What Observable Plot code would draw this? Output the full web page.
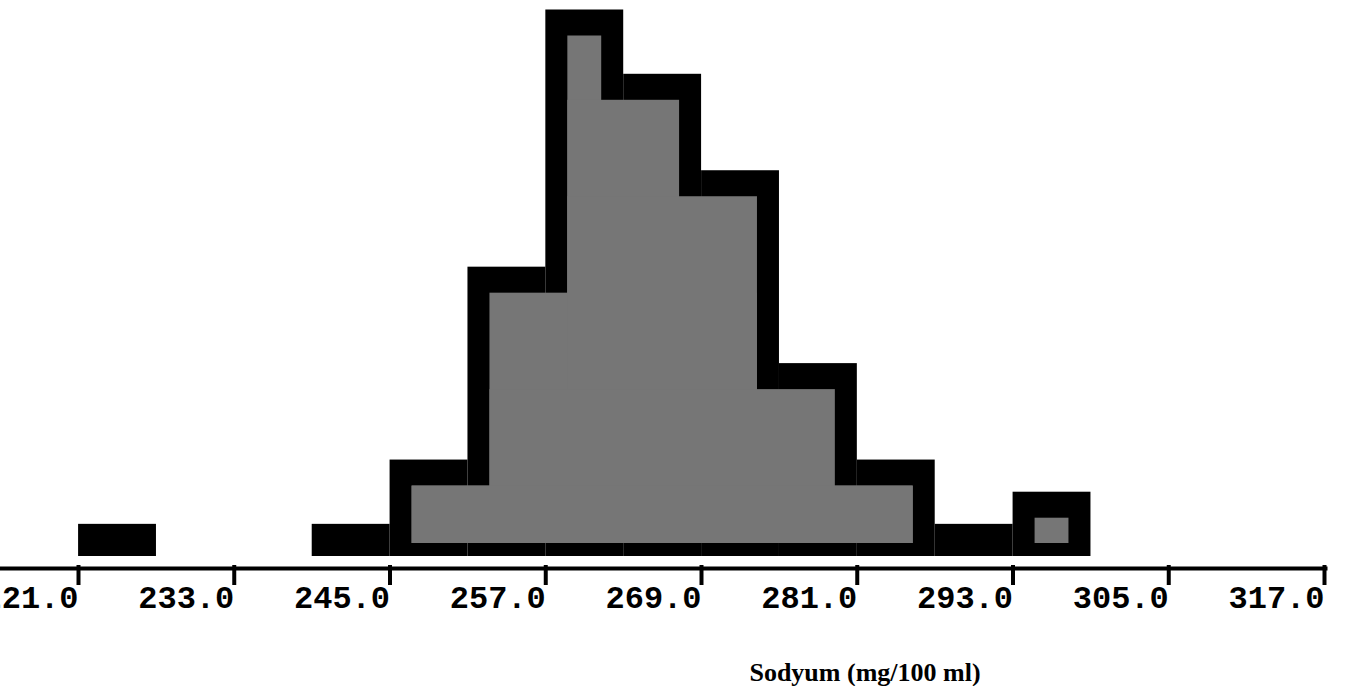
<!DOCTYPE html>
<html><head><meta charset="utf-8">
<script src="https://cdn.jsdelivr.net/npm/d3@7"></script>
<script src="https://cdn.jsdelivr.net/npm/@observablehq/plot@0.6"></script>
<style>
html,body{margin:0;padding:0;background:#fff;}
#caption{font-family:"Liberation Serif",serif;font-weight:bold;font-size:26px;line-height:26px;padding-top:20px;padding-left:384px;text-align:center;width:962px;color:#000;}
</style></head><body>
<div id="chart"></div>
<div id="caption"></div>
<script>
// Histogram of sodium (mg/100 ml): bin lower edges, counts, width
const binStart = [221.7, 239.7, 245.7, 251.7, 257.7, 263.7, 269.7, 275.7, 281.7, 287.7, 293.7];
const counts   = [1, 1, 3, 9, 17, 15, 12, 6, 3, 1, 2];
const binWidth = 6;
const tickValues = [221, 233, 245, 257, 269, 281, 293, 305, 317];
const xLabel = "Sodyum (mg/100 ml)";

const bars = binStart.map((x0, i) => ({x1: x0, x2: x0 + binWidth, count: counts[i]}));
const touches = (a, b) => Math.abs(a.x2 - b.x1) < 1e-6;
// inner (shaded) region: for each bar, the run of adjacent bars at least as tall
const interior = bars.map((b, i) => {
  let a = i; while (a > 0 && touches(bars[a-1], bars[a]) && bars[a-1].count >= b.count) a--;
  let c = i; while (c < bars.length - 1 && touches(bars[c], bars[c+1]) && bars[c+1].count >= b.count) c++;
  return {x1: bars[a].x1, x2: bars[c].x2, count: b.count};
}).filter(d => d.count > 1);

const chart = Plot.plot({
  width: 1346, height: 640,
  marginLeft: 0, marginRight: 21, marginTop: 0, marginBottom: 72,
  x: {domain: [221, 317], range: [69, 1315]},
  y: {domain: [0, 17], range: [556, 9.5], axis: null},
  marks: [
    Plot.rect(bars, {x1: "x1", x2: "x2", y1: 0, y2: "count", fill: "#000"}),
    Plot.rect(interior, {x1: "x1", x2: "x2", y1: 0, y2: "count", fill: "#767676",
      insetLeft: 22, insetRight: 22, insetTop: 26, insetBottom: 13}),
    Plot.frame({anchor: "bottom", strokeWidth: 4, stroke: "#000"}),
    Plot.axisX({ticks: tickValues, tickFormat: d => d.toFixed(1), tickSize: 20, tickPadding: 0,
      strokeWidth: 4, stroke: "#000", fill: "#000",
      fontFamily: "Liberation Mono", fontWeight: "bold", fontSize: 32,
      textAnchor: "end", dx: 9, dy: -3, label: null})
  ]
});
document.getElementById("chart").appendChild(chart);
document.getElementById("caption").textContent = xLabel;
</script>
</body></html>
